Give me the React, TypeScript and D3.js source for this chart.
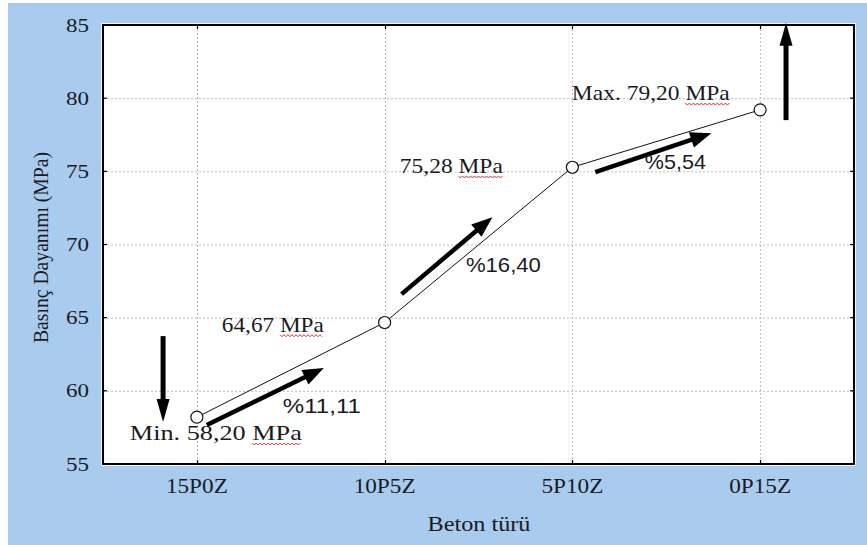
import React, { useEffect, useRef } from "react";
import * as d3 from "d3";

// ---- data ----
const categories = ["15P0Z", "10P5Z", "5P10Z", "0P15Z"];
const strengths = [58.2, 64.67, 75.28, 79.2];
const yTicks = [55, 60, 65, 70, 75, 80, 85];
const valueLabels = ["Min. 58,20 MPa", "64,67 MPa", "75,28 MPa", "Max. 79,20 MPa"];
const percentLabels = ["%11,11", "%16,40", "%5,54"];
const yTitle = "Basınç Dayanımı (MPa)";
const xTitle = "Beton türü";

// ---- annotation layout (category-index units, MPa units) ----
const valueLabelLayout = [
  { xi: -0.357, v: 56.64, len: 172 },
  { xi: 0.133, v: 64.04, len: 102 },
  { xi: 1.081, v: 74.89, len: 103 },
  { xi: 1.997, v: 79.87, len: 158 },
];
const percentLabelLayout = [
  { xi: 0.458, v: 58.49, len: 78 },
  { xi: 1.433, v: 68.14, len: 75 },
  { xi: 2.386, v: 75.16, len: 61 },
];
const arrowLayout = [
  { x1: -0.18, v1: 63.74, x2: -0.18, v2: 57.87 },
  { x1: 0.053, v1: 57.66, x2: 0.676, v2: 61.56 },
  { x1: 1.09, v1: 66.61, x2: 1.574, v2: 71.87 },
  { x1: 2.122, v1: 74.95, x2: 2.74, v2: 77.61 },
  { x1: 3.138, v1: 78.5, x2: 3.138, v2: 85.15 },
];

const SERIF = "'Liberation Serif', 'Times New Roman', serif";
const SANS = "'Liberation Sans', Arial, sans-serif";
const INK = "#1a1a24";

export default function App() {
  const ref = useRef<SVGSVGElement>(null);

  useEffect(() => {
    document.body.style.margin = "0";
    const W = 867, H = 545;
    const L = 103, R = 854, T = 25, B = 464;
    const svg = d3.select(ref.current);
    svg.selectAll("*").remove();

    const x = d3.scaleLinear().domain([-0.5, categories.length - 0.5]).range([L, R]);
    const y = d3.scaleLinear().domain([55, 85]).range([B, T]);

    // backgrounds
    svg.append("rect").attr("x", 8).attr("y", 3).attr("width", W - 8).attr("height", H - 3).attr("fill", "#a9cbee");
    svg.append("rect").attr("x", L - 2).attr("y", T - 2).attr("width", R - L + 4).attr("height", B - T + 4).attr("fill", "#f4f8fc");
    svg.append("rect").attr("x", L).attr("y", T).attr("width", R - L).attr("height", B - T).attr("fill", "#ffffff");

    // grid
    const grid = svg.append("g").attr("stroke", "#bdbdbd").attr("stroke-width", 1).attr("stroke-dasharray", "2,2");
    grid.selectAll("line.h").data(yTicks.slice(1, -1)).join("line")
      .attr("x1", L).attr("x2", R).attr("y1", (d) => y(d) + 0.5).attr("y2", (d) => y(d) + 0.5);
    grid.selectAll("line.v").data(categories).join("line")
      .attr("y1", T).attr("y2", B).attr("x1", (_, i) => Math.round(x(i)) + 0.5).attr("x2", (_, i) => Math.round(x(i)) + 0.5);

    // frame
    svg.append("rect").attr("x", L).attr("y", T).attr("width", R - L).attr("height", B - T)
      .attr("fill", "none").attr("stroke", "#000").attr("stroke-width", 2);

    // ticks on frame
    const tk = svg.append("g").attr("stroke", "#000").attr("stroke-width", 1.2);
    categories.forEach((_, i) => {
      const cx = Math.round(x(i)) + 0.5;
      tk.append("line").attr("x1", cx).attr("x2", cx).attr("y1", T).attr("y2", T + 4);
      tk.append("line").attr("x1", cx).attr("x2", cx).attr("y1", B).attr("y2", B - 4);
    });
    yTicks.forEach((t) => {
      tk.append("line").attr("x1", L).attr("x2", L + 4).attr("y1", y(t)).attr("y2", y(t));
      tk.append("line").attr("x1", R).attr("x2", R - 4).attr("y1", y(t)).attr("y2", y(t));
    });

    // y tick labels
    svg.append("g").selectAll("text").data(yTicks).join("text")
      .attr("x", 89).attr("y", (d) => y(d) + 6.5)
      .attr("text-anchor", "end").attr("font-family", SERIF).attr("font-size", 19)
      .attr("fill", INK).attr("textLength", 23).attr("lengthAdjust", "spacingAndGlyphs")
      .text((d) => d);

    // x tick labels
    svg.append("g").selectAll("text").data(categories).join("text")
      .attr("x", (_, i) => x(i) - 31).attr("y", 493)
      .attr("font-family", SERIF).attr("font-size", 21)
      .attr("fill", INK).attr("textLength", 62).attr("lengthAdjust", "spacingAndGlyphs")
      .text((d) => d);

    // axis titles
    svg.append("text").attr("x", (L + R) / 2 - 51).attr("y", 531)
      .attr("font-family", SERIF).attr("font-size", 21).attr("fill", INK)
      .attr("textLength", 103).attr("lengthAdjust", "spacingAndGlyphs").text(xTitle);
    svg.append("text")
      .attr("transform", `translate(48,${(T + B) / 2 + 3}) rotate(-90)`)
      .attr("x", -95.5).attr("y", 0)
      .attr("font-family", SERIF).attr("font-size", 20).attr("fill", INK)
      .attr("textLength", 191).attr("lengthAdjust", "spacingAndGlyphs").text(yTitle);

    // line
    const line = d3.line<number>().x((_, i) => x(i)).y((d) => y(d));
    svg.append("path").attr("d", line(strengths)).attr("fill", "none").attr("stroke", "#111").attr("stroke-width", 1);

    // arrows
    const arrows = svg.append("g");
    arrowLayout.forEach((a) => {
      const x1 = x(a.x1), y1 = y(a.v1), x2 = x(a.x2), y2 = y(a.v2);
      const dx = x2 - x1, dy = y2 - y1;
      const len = Math.hypot(dx, dy);
      const ux = dx / len, uy = dy / len;
      const vertical = Math.abs(ux) < 0.01;
      const headLen = vertical ? 23 : 21;
      const halfW = vertical ? 6.5 : 8;
      const bx = x2 - ux * headLen, by = y2 - uy * headLen;
      arrows.append("line").attr("x1", x1).attr("y1", y1).attr("x2", bx + ux * 2).attr("y2", by + uy * 2)
        .attr("stroke", "#000").attr("stroke-width", vertical ? 5 : 4.5);
      const px = -uy, py = ux;
      arrows.append("path")
        .attr("d", `M${x2},${y2}L${bx + px * halfW},${by + py * halfW}L${bx - px * halfW},${by - py * halfW}Z`)
        .attr("fill", "#000");
    });

    // points
    svg.append("g").selectAll("circle").data(strengths).join("circle")
      .attr("cx", (_, i) => x(i)).attr("cy", (d) => y(d)).attr("r", 6)
      .attr("fill", "#fff").attr("stroke", "#111").attr("stroke-width", 1.2);

    // value labels
    const vl = svg.append("g");
    valueLabels.forEach((txt, i) => {
      const lay = valueLabelLayout[i];
      const tx = x(lay.xi), ty = y(lay.v);
      const t = vl.append("text").attr("x", tx).attr("y", ty)
        .attr("font-family", SERIF).attr("font-size", 22).attr("fill", INK)
        .attr("textLength", lay.len).attr("lengthAdjust", "spacingAndGlyphs").text(txt);
      const node = t.node() as SVGTextElement;
      const k = txt.indexOf("MPa");
      let sx = tx + lay.len * 0.71, ex = tx + lay.len;
      try {
        sx = node.getStartPositionOfChar(k).x;
        ex = node.getEndPositionOfChar(txt.length - 1).x;
      } catch (e) {}
      const pts: [number, number][] = [];
      let up = true;
      for (let px = sx; px <= ex; px += 2) {
        pts.push([px, ty + 4 + (up ? -1 : 1)]);
        up = !up;
      }
      vl.append("path").attr("d", d3.line()(pts)).attr("fill", "none")
        .attr("stroke", "#e0282a").attr("stroke-width", 1);
    });

    // percent labels
    svg.append("g").selectAll("text").data(percentLabels).join("text")
      .attr("x", (_, i) => x(percentLabelLayout[i].xi)).attr("y", (_, i) => y(percentLabelLayout[i].v))
      .attr("font-family", SANS).attr("font-size", 21).attr("fill", INK)
      .attr("textLength", (_, i) => percentLabelLayout[i].len).attr("lengthAdjust", "spacingAndGlyphs")
      .text((d) => d);
  }, []);

  return <svg ref={ref} width={867} height={545} style={{ display: "block" }} />;
}
